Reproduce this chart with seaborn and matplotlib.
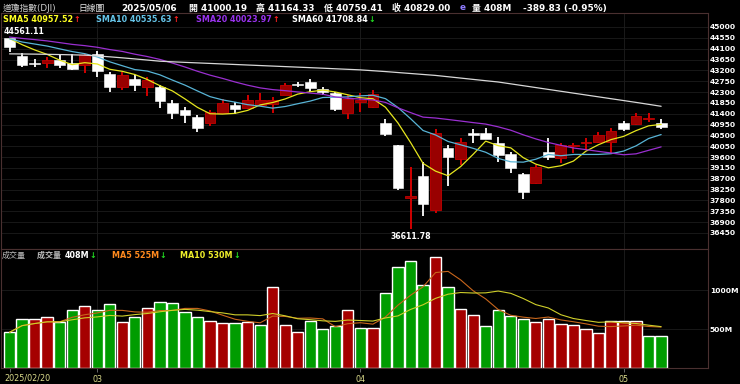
import matplotlib
matplotlib.use("Agg")
import matplotlib.pyplot as plt
import seaborn as sns
import pandas as pd
import numpy as np

W, H = 740, 384

# daily bars, 2025/02/20 .. 2025/05/06
dates = [
    "2025-02-20", "2025-02-21", "2025-02-24", "2025-02-25", "2025-02-26", "2025-02-27", "2025-02-28",
    "2025-03-03", "2025-03-04", "2025-03-05", "2025-03-06", "2025-03-07", "2025-03-10", "2025-03-11",
    "2025-03-12", "2025-03-13", "2025-03-14", "2025-03-17", "2025-03-18", "2025-03-19", "2025-03-20",
    "2025-03-21", "2025-03-24", "2025-03-25", "2025-03-26", "2025-03-27", "2025-03-28", "2025-03-31",
    "2025-04-01", "2025-04-02", "2025-04-03", "2025-04-04", "2025-04-07", "2025-04-08", "2025-04-09",
    "2025-04-10", "2025-04-11", "2025-04-14", "2025-04-15", "2025-04-16", "2025-04-17", "2025-04-21",
    "2025-04-22", "2025-04-23", "2025-04-24", "2025-04-25", "2025-04-28", "2025-04-29", "2025-04-30",
    "2025-05-01", "2025-05-02", "2025-05-05", "2025-05-06",
]
opens = [
    44530, 43800, 43520, 43500, 43630, 43500, 43420,
    43880, 43050, 42522, 42830, 42500, 42500, 41858,
    41555, 41280, 41030, 41450, 41762, 41625, 41770,
    41810, 42180, 42620, 42705, 42430, 42250, 41420,
    41900, 41692, 41000, 40100, 37890, 38815, 37400,
    39965, 39510, 40590, 40588, 40172, 39730, 38900,
    38512, 39811, 39550, 40060, 40172, 40240, 40240,
    41000, 40961, 41170, 41000.19,
]
highs = [
    44561.11, 43930, 43660, 43742, 43840, 43880, 43880,
    44020, 43145, 43145, 43008, 42912, 42592, 41970,
    41692, 41347, 41555, 42000, 41900, 42177, 42273,
    42107, 42663, 42705, 42829, 42522, 42300, 42177,
    42248, 42385, 41169, 40120, 39207, 39409, 40754,
    40102, 40380, 40754, 40796, 40421, 39800, 38950,
    39271, 40380, 40172, 40172, 40405, 40650, 40796,
    41111, 41417, 41444, 41164.33,
]
lows = [
    43960, 43350, 43330, 43286, 43310, 43215, 43100,
    42940, 42315, 42385, 42356, 42150, 41625, 41169,
    41027, 40654, 40890, 41417, 41389, 41584, 41720,
    41417, 42177, 42500, 42315, 42177, 41530, 41169,
    41486, 41625, 40476, 38234, 36611.78, 37150, 37292,
    38400, 39271, 40172, 40338, 39409, 38950, 37850,
    38480, 39479, 39367, 39757, 39894, 40200, 39782,
    40700, 40930, 41044, 40759.41,
]
closes = [
    44176.65, 43428.02, 43461.21, 43621.16, 43433.12, 43239.50, 43840.91,
    43191.24, 42520.99, 43006.59, 42579.08, 42801.72, 41911.71, 41433.48,
    41350.93, 40813.57, 41488.19, 41841.63, 41581.31, 41964.63, 41953.32,
    41985.35, 42583.32, 42587.50, 42454.79, 42299.70, 41583.90, 42001.76,
    41989.96, 42225.32, 40545.93, 38314.86, 37965.60, 37645.59, 40608.45,
    39593.66, 40212.71, 40524.79, 40368.96, 39669.39, 39142.23, 38170.41,
    39186.98, 39606.57, 40093.40, 40113.50, 40227.59, 40527.62, 40669.36,
    40752.96, 41317.43, 41218.83, 40829.00,
]
# the 19 closes before the first bar (warm-up for SMA5/10/20)
prior_closes = [
    44565.07, 44424.25, 44713.58, 44850.35, 44713.52, 44882.13, 44544.66,
    44421.91, 44556.04, 44873.28, 44747.63, 44303.40, 44470.41, 44593.65,
    44368.56, 44711.43, 44546.08, 44556.34, 44627.59,
]
# SMA60
sma60 = [
    43885, 43880, 43874, 43866, 43856, 43845, 43832,
    43800, 43762, 43720, 43675, 43628, 43580, 43555,
    43532, 43510, 43488, 43466, 43444, 43422, 43400,
    43378, 43356, 43334, 43312, 43290, 43266, 43243,
    43220, 43185, 43150, 43110, 43070, 43030, 42990,
    42935, 42880, 42825, 42770, 42717, 42640, 42563,
    42486, 42409, 42332, 42255, 42178, 42101, 42024,
    41947, 41870, 41790, 41708.84,
]
# volume in millions
volumes = [
    458, 628, 624, 658, 594, 748, 791,
    740, 825, 590, 650, 769, 846, 838,
    718, 650, 607, 573, 577, 585, 556,
    1038, 551, 458, 603, 500, 538, 744,
    517, 513, 958, 1299, 1376, 1060, 1427,
    1034, 752, 679, 538, 744, 667, 632,
    594, 630, 560, 550, 496, 445, 605,
    600, 600, 412, 408,
]

price_ticks = list(range(36450, 45001, 450))
vol_ticks = [500, 1000]
month_pos = [7, 28, 49]
month_labels = ["03", "04", "05"]

sns.set_theme(style="dark", rc={"axes.facecolor": "black", "figure.facecolor": "black"})
FONTS = ["DejaVu Sans", "Noto Sans CJK TC"]
plt.rcParams["font.family"] = FONTS

df = pd.DataFrame({"date": pd.to_datetime(dates), "open": opens, "high": highs,
                   "low": lows, "close": closes, "volume": volumes, "sma60": sma60})
df["i"] = np.arange(len(df))
full = pd.Series(prior_closes + closes)
for n in (5, 10, 20):
    df[f"sma{n}"] = full.rolling(n).mean().iloc[len(prior_closes):].to_numpy()
prev_close = np.array([prior_closes[-1]] + closes[:-1])
df["up_day"] = df["close"].to_numpy() >= prev_close
df["vma5"] = df["volume"].rolling(5, min_periods=1).mean()
df["vma10"] = df["volume"].rolling(10, min_periods=1).mean()

fig = plt.figure(figsize=(W / 100, H / 100), dpi=100, facecolor="black")
ax = fig.add_axes([1 / W, 135 / H, 707 / W, 236 / H])
axv = fig.add_axes([1 / W, 16 / H, 707 / W, 119 / H], sharex=ax)

# candles
up = df["close"] >= df["open"]
body_lo = df[["open", "close"]].min(axis=1)
body_h = (df["close"] - df["open"]).abs().clip(lower=40)
ax.vlines(df.i[up], df.low[up], df.high[up], color="#e00000", lw=1.3, zorder=2)
ax.vlines(df.i[~up], df.low[~up], df.high[~up], color="white", lw=1.3, zorder=2)
ax.bar(df.i[up], body_h[up], bottom=body_lo[up], width=0.86, color="#990000",
       edgecolor="#c40000", lw=0.6, zorder=2.5)
ax.bar(df.i[~up], body_h[~up], bottom=body_lo[~up], width=0.86, color="white",
       edgecolor="white", lw=0.4, zorder=2.5)

ma_colors = {"sma5": "#e6e61e", "sma10": "#58b4d6", "sma20": "#9a2fd0", "sma60": "#d8d8d8"}
for col, c in ma_colors.items():
    sns.lineplot(x=df.i, y=df[col], ax=ax, color=c, lw=0.9, zorder=3)

ax.text(-0.45, 44561.11 + 60, "44561.11", color="white", fontsize=5.6,
        fontweight="bold", ha="left", va="bottom")
ax.text(32, 36611.78 - 110, "36611.78", color="white", fontsize=5.6,
        fontweight="bold", ha="center", va="top")

# volume
axv.bar(df.i, df.volume, width=0.9, color=np.where(df.up_day, "#a50000", "#009c00"), zorder=2)
sns.lineplot(x=df.i, y=df.vma5, ax=axv, color="#c8661c", lw=0.8, zorder=3)
sns.lineplot(x=df.i, y=df.vma10, ax=axv, color="#cfcf2a", lw=0.8, zorder=3)

ax.set_xlim(-0.68, 55.74)
ax.set_ylim(35785, 45581)
axv.set_ylim(0, 1526)

for a in (ax, axv):
    a.set_xlabel("")
    a.set_ylabel("")
    a.yaxis.tick_right()
    a.grid(axis="y", color="#1c1c1c", lw=0.6, zorder=0)
    a.grid(axis="x", visible=False)
    for m in month_pos:
        a.axvline(m, color="#1e1e1e", lw=0.6, zorder=0.5)
    for s in a.spines.values():
        s.set_visible(True)
        s.set_color("#4a3030")
        s.set_linewidth(0.8)

ax.set_yticks(price_ticks)
ax.set_yticklabels([str(t) for t in price_ticks])
axv.set_yticks(vol_ticks)
axv.set_yticklabels([f"{t}M" for t in vol_ticks])
for a in (ax, axv):
    a.tick_params(axis="y", length=0, pad=1.2, labelsize=5.4, labelcolor="white")
    for lbl in a.get_yticklabels():
        lbl.set_fontweight("bold")
ax.tick_params(axis="x", length=0, labelbottom=False)

axv.set_xticks([0] + month_pos)
axv.set_xticklabels([""] + month_labels)
axv.tick_params(axis="x", length=3, width=0.6, color="#777777", pad=2,
                labelsize=5.8, labelcolor="#dcdc8c", bottom=True)
axv.text(-0.45, -0.085, "2025/02/20", transform=axv.get_xaxis_transform(),
         color="#dcdc8c", fontsize=5.8, ha="left", va="center")

# header and legends
renderer = fig.canvas.get_renderer()


def put(x, y, s, color, size, weight="bold"):
    return fig.text(x / W, 1 - y / H, s, color=color, fontsize=size, fontweight=weight,
                    ha="left", va="center")


def chain(x, y, parts, size):
    for s, c in parts:
        t = put(x, y, s, c, size)
        x = t.get_window_extent(renderer=renderer).x1 + 0.5


RED, GREEN = "#ff2222", "#22dd22"
put(3, 8, "道瓊指數(DJI)", "#cfcfcf", 6.3, "normal")
put(78, 8, "日線圖", "#e8e8e8", 6.3, "normal")
put(121, 8, "2025/05/06", "white", 6.4)
put(189, 8, "開 41000.19", "white", 6.4)
put(256, 8, "高 41164.33", "white", 6.4)
put(324, 8, "低 40759.41", "white", 6.4)
put(392, 8, "收 40829.00", "white", 6.4)
put(460, 8, "e", "#8f7cff", 6.4)
put(472, 8, "量 408M", "white", 6.4)
put(523, 8, "-389.83 (-0.95%)", "white", 6.4)

chain(3, 19, [("SMA5 40957.52", "#ffff22"), ("↑", RED)], 5.8)
chain(96, 19, [("SMA10 40535.63", "#66c4e8"), ("↑", RED)], 5.8)
chain(196, 19, [("SMA20 40023.97", "#9a33ee"), ("↑", RED)], 5.8)
chain(292, 19, [("SMA60 41708.84", "white"), ("↓", GREEN)], 5.8)

put(2, 255, "成交量", "#bdbdbd", 5.8, "normal")
chain(37, 255, [("成交量 ", "#bdbdbd"), ("408M", "white"), ("↓", GREEN)], 5.8)
chain(112, 255, [("MA5 525M", "#ff8a1e"), ("↓", GREEN)], 5.8)
chain(180, 255, [("MA10 530M", "#f0f02a"), ("↓", GREEN)], 5.8)

fig.savefig("out.png", dpi=100, facecolor="black")
